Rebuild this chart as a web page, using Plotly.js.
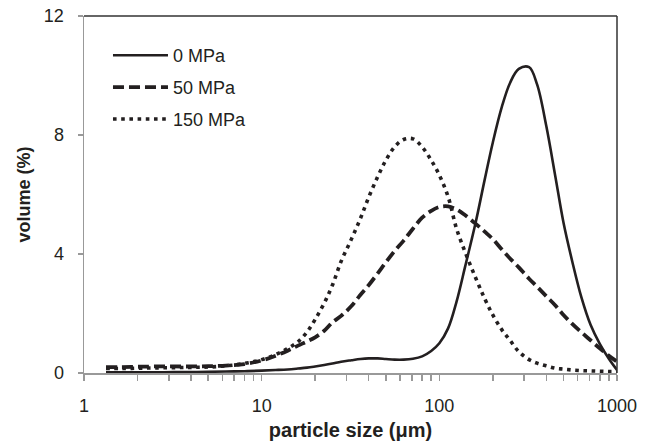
<!DOCTYPE html>
<html>
<head>
<meta charset="utf-8">
<script src="https://cdn.plot.ly/plotly-3.0.1.min.js"></script>
<style>html,body{margin:0;padding:0;background:#fff;}#chart{width:651px;height:447px;}</style>
</head>
<body>
<div id="chart"></div>
<script>
// particle size (µm)
const sizes = [1.33, 1.6, 2, 2.5, 3.2, 4, 5, 6.3, 8, 10, 12, 14, 16, 18, 20, 22.5, 25, 28, 32, 36, 40, 45, 50, 56, 63, 71, 80, 90, 100, 112, 125, 140, 160, 180, 200, 225, 250, 280, 320, 355, 400, 450, 500, 560, 630, 710, 800, 900, 1000];
// volume (%)
const mpa0 = [0.02, 0.02, 0.02, 0.02, 0.03, 0.03, 0.04, 0.05, 0.06, 0.08, 0.1, 0.12, 0.15, 0.18, 0.22, 0.27, 0.32, 0.38, 0.43, 0.47, 0.49, 0.49, 0.47, 0.45, 0.45, 0.48, 0.56, 0.74, 1.0, 1.5, 2.4, 3.6, 5.05, 6.5, 7.75, 8.95, 9.75, 10.22, 10.28, 9.7, 8.3, 6.6, 5.05, 3.75, 2.55, 1.62, 0.98, 0.48, 0.1];
const mpa50 = [0.2, 0.2, 0.21, 0.22, 0.22, 0.22, 0.23, 0.25, 0.3, 0.42, 0.58, 0.75, 0.92, 1.06, 1.2, 1.42, 1.7, 1.92, 2.25, 2.63, 2.95, 3.35, 3.72, 4.1, 4.45, 4.85, 5.22, 5.45, 5.58, 5.6, 5.5, 5.3, 5.02, 4.75, 4.5, 4.15, 3.85, 3.55, 3.17, 2.9, 2.58, 2.27, 1.95, 1.65, 1.37, 1.1, 0.83, 0.58, 0.38];
const mpa150 = [0.15, 0.15, 0.16, 0.17, 0.18, 0.19, 0.2, 0.24, 0.32, 0.45, 0.62, 0.82, 1.05, 1.38, 1.8, 2.35, 2.95, 3.75, 4.5, 5.2, 5.9, 6.6, 7.15, 7.6, 7.85, 7.87, 7.6, 7.15, 6.65, 5.93, 4.85, 4.05, 3.2, 2.5, 1.95, 1.45, 1.1, 0.72, 0.45, 0.33, 0.24, 0.16, 0.13, 0.1, 0.08, 0.07, 0.06, 0.05, 0.05];
const seriesNames = ['0 MPa', '50 MPa', '150 MPa'];
const yTicks = [0, 4, 8, 12];
const xMajorTicks = [1, 10, 100, 1000];
const xMinorTicks = [2, 3, 4, 5, 6, 7, 8, 9, 20, 30, 40, 50, 60, 70, 80, 90, 200, 300, 400, 500, 600, 700, 800, 900];

const xTickVals = xMajorTicks.concat(xMinorTicks);
const xTickText = xTickVals.map(v => xMajorTicks.includes(v) ? String(v) : '');

const lineColor = '#231f20';
const traces = [
  {x: sizes, y: mpa0, name: seriesNames[0], legendgroup: 'a', mode: 'lines', line: {color: lineColor, width: 2.6, shape: 'spline', smoothing: 1}},
  {x: sizes, y: mpa50, name: seriesNames[1], legendgroup: 'b', mode: 'lines', line: {color: lineColor, width: 3.8, dash: '11px,5px', shape: 'spline', smoothing: 1}},
  {x: sizes, y: mpa150, name: seriesNames[2], legendgroup: 'c', mode: 'lines', line: {color: lineColor, width: 3.6, dash: '3.6px,4.6px', shape: 'spline', smoothing: 1}}
];

const font = {family: '"Liberation Sans", Arial, sans-serif', color: '#231f20'};
const layout = {
  width: 651, height: 447,
  margin: {l: 84, r: 34, t: 16, b: 74},
  paper_bgcolor: '#fff', plot_bgcolor: '#fff',
  font: Object.assign({size: 18}, font),
  showlegend: true,
  legend: {x: 0.045, y: 0.941, xanchor: 'left', yanchor: 'top', bgcolor: 'rgba(0,0,0,0)', itemwidth: 55,
           font: Object.assign({}, font, {size: 18}), tracegroupgap: 5.5},
  xaxis: {type: 'log', range: [0, 3], tickvals: xTickVals, ticktext: xTickText,
          showline: true, linecolor: '#999', linewidth: 1.5, showgrid: false, zeroline: false,
          ticks: 'outside', ticklen: 6, tickcolor: '#999', tickwidth: 1.5,
          ticklabelstandoff: 10,
          tickfont: Object.assign({}, font, {size: 18}),
          title: {text: 'particle size (μm)', font: Object.assign({}, font, {size: 20, weight: 'bold'}), standoff: 8}},
  yaxis: {range: [0, 12], tickvals: yTicks, ticktext: yTicks.map(String),
          showline: true, linecolor: '#999', linewidth: 1.5, showgrid: false, zeroline: false,
          ticks: 'outside', ticklen: 5, tickcolor: '#999', tickwidth: 1.5,
          ticklabelstandoff: 10,
          tickfont: Object.assign({}, font, {size: 18}),
          title: {text: 'volume (%)', font: Object.assign({}, font, {size: 18, weight: 'bold'}), standoff: 8}},
  shapes: [
    {type: 'line', xref: 'paper', yref: 'paper', x0: 0, x1: 1, y0: 1, y1: 1, line: {color: '#333', width: 1.5}},
    {type: 'line', xref: 'paper', yref: 'paper', x0: 1, x1: 1, y0: 0, y1: 1, line: {color: '#333', width: 1.5}}
  ]
};
Plotly.newPlot('chart', traces, layout, {displayModeBar: false, staticPlot: true});
</script>
</body>
</html>
